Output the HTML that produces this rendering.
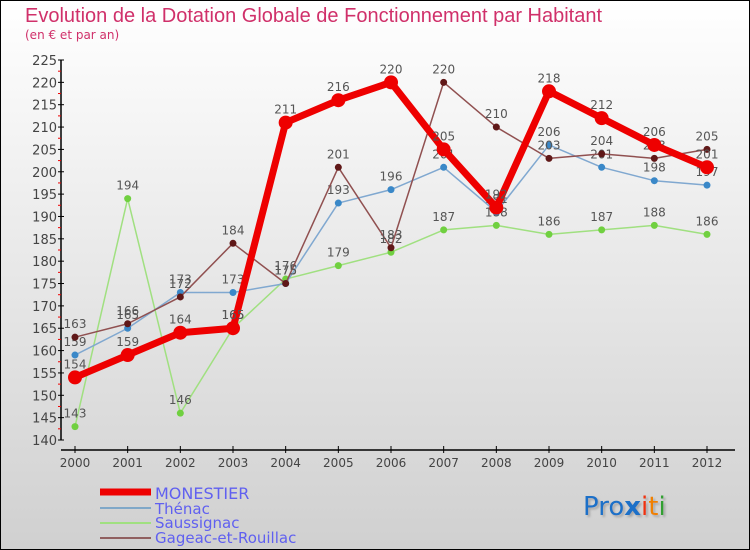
<!DOCTYPE html>
<html><head><meta charset="utf-8"><style>
body{margin:0}
#c{width:750px;height:550px;position:relative;background:linear-gradient(#ffffff,#d0d0d0);box-sizing:border-box;border:1px solid #000;overflow:hidden;font-family:"DejaVu Sans","Liberation Sans",sans-serif}
</style></head><body>
<div id="c">
<svg width="750" height="550" style="position:absolute;left:-1px;top:-1px" id="svg">
<defs><filter id="sh"><feDropShadow dx="2" dy="2" stdDeviation="1" flood-color="#888" flood-opacity="0.6"/></filter></defs>
<text x="25" y="22" font-size="20" font-family="Liberation Sans, sans-serif" fill="#d0306a">Evolution de la Dotation Globale de Fonctionnement par Habitant</text>
<text x="25" y="39" font-size="12" fill="#d0306a">(en € et par an)</text>
<g id="plot"></g>
<g>
<line x1="100" y1="492" x2="151" y2="492" stroke="#e00" stroke-width="7"/>
<text x="155" y="499" font-size="16" fill="#6060f0">MONESTIER</text>
<line x1="100" y1="508" x2="151" y2="508" stroke="#80a8c8" stroke-width="2"/>
<text x="155" y="514" font-size="15" fill="#6060f0">Thénac</text>
<line x1="100" y1="523" x2="151" y2="523" stroke="#a0e080" stroke-width="2"/>
<text x="155" y="528" font-size="15" fill="#6060f0">Saussignac</text>
<line x1="100" y1="538" x2="151" y2="538" stroke="#906060" stroke-width="2"/>
<text x="155" y="543" font-size="15" fill="#6060f0">Gageac-et-Rouillac</text>
</g>
<text x="583" y="515" font-size="26" filter="url(#sh)"><tspan fill="#1a70c8">Pro</tspan><tspan fill="#1a70c8" font-weight="bold">x</tspan><tspan fill="#f03010">i</tspan><tspan fill="#f08000">t</tspan><tspan fill="#30a030">i</tspan></text>
</svg>
</div>
<script>
const years=[2000,2001,2002,2003,2004,2005,2006,2007,2008,2009,2010,2011,2012];
const monestier=[154,159,164,165,211,216,220,205,192,218,212,206,201];
const thenac=[159,165,173,173,175,193,196,201,191,206,201,198,197];
const saussignac=[143,194,146,165,176,179,182,187,188,186,187,188,186];
const gageac=[163,166,172,184,175,201,183,220,210,203,204,203,205];
const yTicks=[140,145,150,155,160,165,170,175,180,185,190,195,200,205,210,215,220,225];
const NS="http://www.w3.org/2000/svg";
const g=document.getElementById('plot');
function x(i){return 75+i*(707-75)/12;}
function y(v){return 440-(v-140)*(380/85);}
function el(t,a,p){const e=document.createElementNS(NS,t);for(const k in a)e.setAttribute(k,a[k]);(p||g).appendChild(e);return e;}
const ax=el('line',{x1:61,y1:60,x2:61,y2:440,stroke:'#000','stroke-width':1.5});


const axx=el('line',{x1:61,y1:450,x2:735,y2:450,stroke:'#000','stroke-width':1.5});


yTicks.forEach(v=>{
 el('line',{x1:58,y1:y(v),x2:64,y2:y(v),stroke:'#000'});
 if(v<225)el('line',{x1:58,y1:y(v+2.5),x2:61,y2:y(v+2.5),stroke:'#e00'});
 const t=el('text',{x:57,y:y(v)+5,'text-anchor':'end','font-size':13,fill:'#444'});t.textContent=v;
 
 
});
years.forEach((yr,i)=>{
 el('line',{x1:x(i),y1:446,x2:x(i),y2:453,stroke:'#000'});
 const t=el('text',{x:x(i),y:467,'text-anchor':'middle','font-size':12,fill:'#444'});t.textContent=yr;
 
 
});
function series(data,color,w,r,fill,name){
 const s=el('g',{});
 
 
 el('polyline',{points:data.map((v,i)=>x(i)+','+y(v)).join(' '),fill:'none',stroke:color,'stroke-width':w,'stroke-linejoin':'round'},s);
 data.forEach((v,i)=>{
  const c=el('circle',{cx:x(i),cy:y(v),r:r,fill:fill},s);
  
  
  const t=el('text',{x:x(i),y:y(v)-9,'text-anchor':'middle','font-size':12,fill:'#555'},s);t.textContent=v;
 });
}
series(saussignac,'#a0e080',1.5,3.5,'#70d040','saussignac-series');
series(thenac,'#80a8d0',1.5,3.5,'#3a88c8','thenac-series');
series(gageac,'#905050',1.5,3.5,'#601818','gageac-series');
series(monestier,'#ee0000',7,7,'#ee0000','monestier-series');
</script>
</body></html>
